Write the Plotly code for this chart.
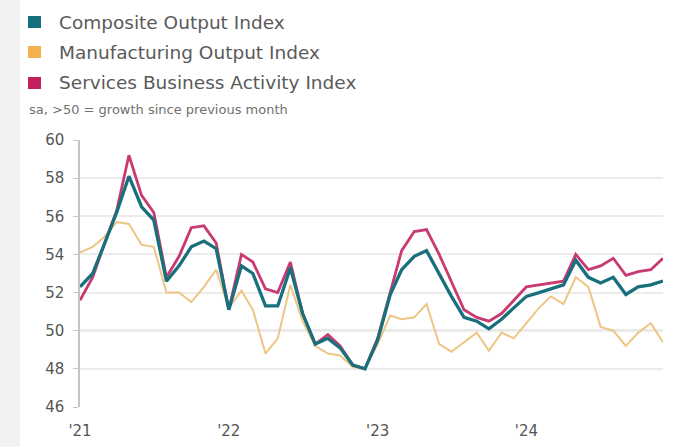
import pandas as pd
import plotly.graph_objects as go

# ---- data ----
months = pd.date_range("2021-01-01", periods=48, freq="MS")

composite = [52.3, 53.0, 54.5, 56.2, 58.1, 56.5, 55.8, 52.6, 53.4, 54.4, 54.7, 54.3,
             51.1, 53.4, 53.0, 51.3, 51.3, 53.3, 50.9, 49.3, 49.6, 49.1, 48.2, 48.0,
             49.5, 51.9, 53.2, 53.9, 54.2, 53.0, 51.8, 50.7, 50.5, 50.1, 50.6, 51.2,
             51.8, 52.0, 52.2, 52.4, 53.7, 52.8, 52.5, 52.8, 51.9, 52.3, 52.4, 52.6]

manufacturing = [54.1, 54.4, 54.9, 55.7, 55.6, 54.5, 54.4, 52.0, 52.0, 51.5, 52.3, 53.2,
                 51.2, 52.1, 51.1, 48.8, 49.6, 52.4, 50.5, 49.2, 48.8, 48.7, 48.1, 48.0,
                 49.3, 50.8, 50.6, 50.7, 51.4, 49.3, 48.9, 49.4, 49.9, 48.95, 49.9, 49.6,
                 50.4, 51.2, 51.8, 51.4, 52.8, 52.3, 50.2, 50.0, 49.2, 49.9, 50.4, 49.4]

services = [51.6, 52.8, 54.5, 56.3, 59.2, 57.1, 56.2, 52.8, 53.9, 55.4, 55.5, 54.6,
            51.1, 54.0, 53.6, 52.2, 52.0, 53.6, 50.9, 49.3, 49.8, 49.2, 48.2, 48.0,
            49.6, 52.0, 54.2, 55.2, 55.3, 54.0, 52.6, 51.1, 50.7, 50.5, 50.9, 51.6,
            52.3, 52.4, 52.5, 52.6, 54.0, 53.2, 53.4, 53.8, 52.9, 53.1, 53.2, 53.8]

series_names = ["Composite Output Index", "Manufacturing Output Index",
                "Services Business Activity Index"]
series_colors = ["#14707e", "#f2b24f", "#c4205e"]
subtitle = "sa, >50 = growth since previous month"

tick_dates = ["2021-01-01", "2022-01-01", "2023-01-01", "2024-01-01"]
tick_labels = ["'21", "'22", "'23", "'24"]
y_ticks = [46, 48, 50, 52, 54, 56, 58, 60]
threshold = 50

FONT = "DejaVu Sans"

# ---- figure ----
fig = go.Figure()
fig.add_trace(go.Scatter(x=months, y=manufacturing, mode="lines",
                         line=dict(color="#eec585", width=2),
                         name=series_names[1], showlegend=False))
fig.add_trace(go.Scatter(x=months, y=services, mode="lines",
                         line=dict(color="#c93a72", width=2.8),
                         name=series_names[2], showlegend=False))
fig.add_trace(go.Scatter(x=months, y=composite, mode="lines",
                         line=dict(color="#17707c", width=3.3),
                         name=series_names[0], showlegend=False))

W, H, L, T = 583, 267, 80, 140

shapes = [
    # grey strip at the left edge
    dict(type="rect", xref="paper", yref="paper", x0=-L / W, x1=(20 - L) / W,
         y0=-40 / H, y1=T / H + 1, fillcolor="#f2f2f2", line_width=0, layer="below"),
    # 50 threshold line
    dict(type="line", xref="paper", yref="y", x0=0, x1=1, y0=threshold, y1=threshold,
         line=dict(color="#cccccc", width=2.2), layer="below"),
]

annotations = []
row_y = [22, 52, 83]
for name, col, ry in zip(series_names, series_colors, row_y):
    yp = 1 + (T - ry) / H
    shapes.append(dict(type="rect", xref="paper", yref="paper",
                       x0=(28 - L) / W, x1=(41 - L) / W,
                       y0=yp - 6 / H, y1=yp + 6 / H,
                       fillcolor=col, line_width=0))
    annotations.append(dict(text=name, xref="paper", yref="paper",
                            x=(57 - L) / W, y=yp, xanchor="left", yanchor="middle",
                            showarrow=False,
                            font=dict(family=FONT, size=18.5, color="#5a5a5a")))
annotations.append(dict(text=subtitle, xref="paper", yref="paper",
                        x=(27 - L) / W, y=1 + (T - 110) / H,
                        xanchor="left", yanchor="middle", showarrow=False,
                        font=dict(family=FONT, size=13, color="#707070")))

fig.update_layout(
    width=692, height=447,
    margin=dict(l=L, r=29, t=T, b=40),
    paper_bgcolor="white", plot_bgcolor="white",
    shapes=shapes, annotations=annotations,
    showlegend=False,
    xaxis=dict(range=[months[0], months[-1]], tickvals=tick_dates, ticktext=tick_labels,
               showgrid=False, zeroline=False, showline=False, ticks="",
               tickfont=dict(family=FONT, size=15, color="#555555"),
               ticklabelstandoff=13, automargin=False),
    yaxis=dict(range=[46, 60], tickvals=y_ticks, showgrid=True, gridcolor="#ececec",
               gridwidth=1.5, zeroline=False, showline=True, linecolor="#c4c4c4",
               linewidth=1.5, ticks="outside", ticklen=5, tickcolor="#c4c4c4",
               tickfont=dict(family=FONT, size=15, color="#555555"),
               ticklabelstandoff=6, automargin=False),
)

fig.write_html("out.html")
